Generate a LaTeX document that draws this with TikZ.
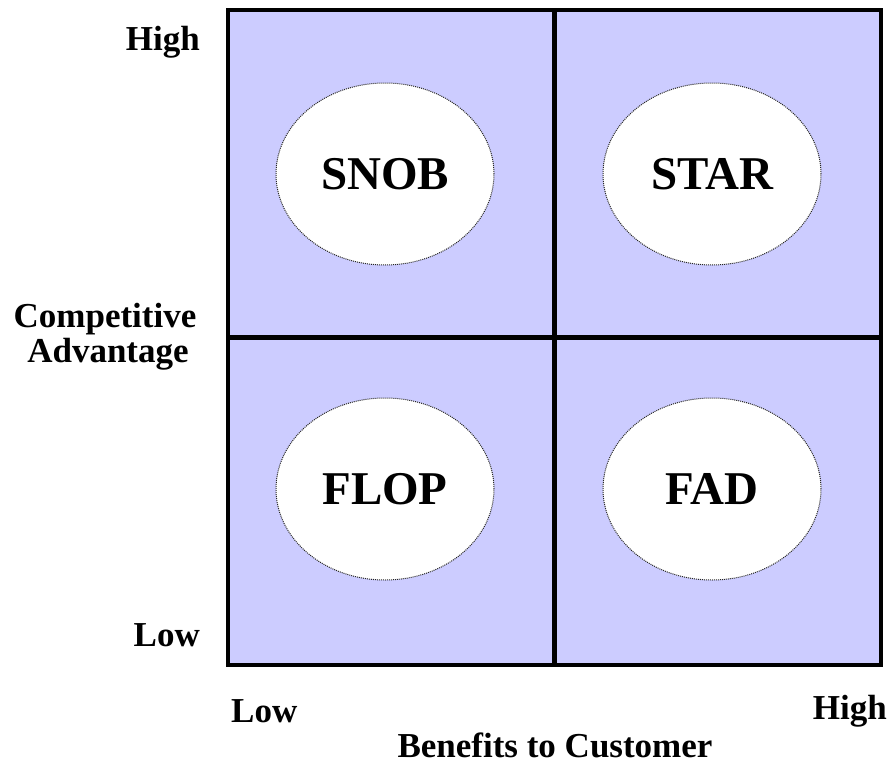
\documentclass[tikz,border=0pt]{standalone}
\usepackage{fontspec}
\setmainfont{Liberation Serif}
\usetikzlibrary{shapes.geometric}
\definecolor{quadfill}{HTML}{CCCCFF}
\tikzset{
  label/.style={font=\fontsize{35}{38}\selectfont\bfseries, inner sep=0pt},
  zone/.style={ellipse, fill=white, draw=black!85, dash pattern=on 1pt off 1pt, line width=1pt,
    minimum width=218pt, minimum height=182pt, inner sep=0pt,
    font=\fontsize{47}{50}\selectfont\bfseries},
  frame/.style={line width=4.5pt, draw=black}
}
\begin{document}
\begin{tikzpicture}[x=1pt,y=-1pt]
\useasboundingbox (0,0) rectangle (893,765);
% matrix frame
\coordinate (tl) at (228,10);
\coordinate (br) at (881,665);
\coordinate (mt) at (554.5,10);
\coordinate (mb) at (554.5,665);
\coordinate (ml) at (228,337.5);
\coordinate (mr) at (881,337.5);
\fill[quadfill] (tl) rectangle (br);
\draw[frame] (mt) -- (mb);
\draw[frame] (ml) -- (mr);
\draw[frame, line join=miter] (tl) rectangle (br);
% quadrant ellipses
\node[zone] (snob) at (385,174) {SNOB};
\node[zone] (star) at (712,174) {STAR};
\node[zone] (flop) at (385,489) {FLOP};
\node[zone] (fad)  at (712,489) {FAD};
% axis labels
\node[label, anchor=base east] (yhigh) at (200,51) {High};
\node[label, anchor=base east] (ylow) at (200,646) {Low};
\node[label, anchor=base] (ytitleA) at (105,327) {Competitive};
\node[label, anchor=base] (ytitleB) at (108,362) {Advantage};
\node[label, anchor=base west] (xlow) at (231,722) {Low};
\node[label, anchor=base east] (xhigh) at (887,719) {High};
\node[label, anchor=base] (xtitle) at (555,757) {Benefits to Customer};
\end{tikzpicture}
\end{document}
